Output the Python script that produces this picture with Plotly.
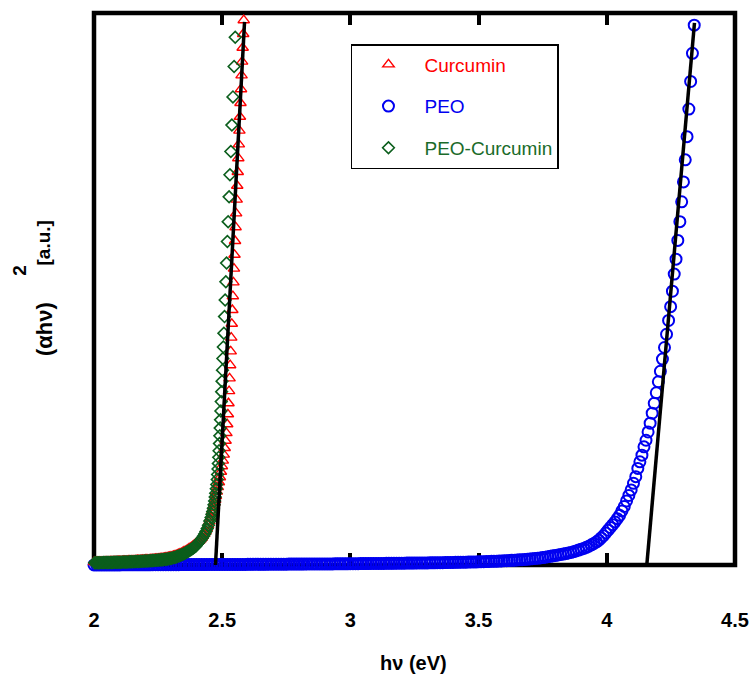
import plotly.graph_objects as go

# ---- Tauc data: photon energy (eV) vs (alpha*h*nu)^2 in arbitrary units ----
curcumin_x = [
    2.5840, 2.5819, 2.5798, 2.5776, 2.5755, 2.5734, 2.5713, 2.5692, 2.5671, 2.5649,
    2.5628, 2.5607, 2.5586, 2.5565, 2.5543, 2.5522, 2.5501, 2.5480, 2.5459, 2.5438,
    2.5416, 2.5395, 2.5374, 2.5353, 2.5332, 2.5310, 2.5288, 2.5268, 2.5245, 2.5222,
    2.5195, 2.5165, 2.5132, 2.5098, 2.5062, 2.5025, 2.4988, 2.4950, 2.4910, 2.4870,
    2.4830, 2.4790, 2.4755, 2.4727, 2.4700, 2.4675, 2.4650, 2.4625, 2.4600, 2.4550,
    2.4500, 2.4450, 2.4400, 2.4350, 2.4300, 2.4250, 2.4200, 2.4150, 2.4100, 2.4050,
    2.400, 2.395, 2.390, 2.385, 2.380, 2.375, 2.370, 2.365, 2.360, 2.355,
    2.350, 2.345, 2.340, 2.335, 2.330, 2.325, 2.320, 2.315, 2.310, 2.305,
    2.300, 2.295, 2.290, 2.285, 2.280, 2.275, 2.270, 2.265, 2.260, 2.255,
    2.250, 2.245, 2.240, 2.235, 2.230, 2.225, 2.220, 2.215, 2.210, 2.205,
    2.200, 2.195, 2.190, 2.185, 2.180, 2.175, 2.170, 2.165, 2.160, 2.155,
    2.150, 2.145, 2.140, 2.135, 2.130, 2.125, 2.120, 2.115, 2.110, 2.105,
    2.100, 2.095, 2.090, 2.085, 2.080, 2.075, 2.070, 2.065, 2.060, 2.055,
    2.050, 2.045, 2.040, 2.035, 2.030, 2.025, 2.020, 2.015, 2.010, 2.005,
    2.000,
]
curcumin_y = [
    98.7, 96.2, 93.7, 91.2, 88.7, 86.2, 83.7, 81.2, 78.7, 76.2,
    73.7, 71.2, 68.7, 66.2, 63.7, 61.2, 58.7, 56.2, 53.7, 51.2,
    48.7, 46.2, 43.7, 41.2, 38.7, 36.2, 33.8, 31.5, 29.3, 27.3,
    25.5, 23.9, 22.5, 21.2, 20.0, 18.9, 17.9, 16.9, 15.9, 15.0,
    14.1, 13.3, 12.5, 11.8, 11.3, 10.8, 10.3, 9.9, 9.5, 8.6,
    7.9, 7.2, 6.6, 6.1, 5.65, 5.3, 4.95, 4.65, 4.4, 4.2,
    4.0, 3.8, 3.6, 3.42, 3.25, 3.1, 2.95, 2.8, 2.65, 2.52,
    2.4, 2.27, 2.15, 2.05, 1.95, 1.86, 1.78, 1.7, 1.63, 1.56,
    1.5, 1.45, 1.4, 1.36, 1.32, 1.28, 1.25, 1.22, 1.19, 1.16,
    1.14, 1.11, 1.09, 1.07, 1.05, 1.03, 1.01, 0.99, 0.98, 0.96,
    0.95, 0.93, 0.92, 0.9, 0.89, 0.87, 0.86, 0.84, 0.83, 0.81,
    0.8, 0.79, 0.78, 0.77, 0.76, 0.75, 0.74, 0.73, 0.72, 0.71,
    0.7, 0.69, 0.68, 0.67, 0.66, 0.65, 0.64, 0.63, 0.62, 0.61,
    0.6, 0.59, 0.58, 0.575, 0.57, 0.56, 0.55, 0.545, 0.54, 0.53,
    0.52,
]

peo_x = [
    4.341, 4.334, 4.327, 4.320, 4.313, 4.306, 4.299, 4.292, 4.285, 4.277,
    4.270, 4.263, 4.256, 4.249, 4.241, 4.233, 4.225, 4.217, 4.209, 4.201,
    4.193, 4.185, 4.177, 4.169, 4.161, 4.153, 4.145, 4.137, 4.129, 4.121,
    4.113, 4.104, 4.095, 4.086, 4.077, 4.068, 4.059, 4.050, 4.041, 4.032,
    4.023, 4.014, 4.005, 3.996, 3.987, 3.978, 3.969, 3.960, 3.950, 3.940,
    3.930, 3.920, 3.910, 3.900, 3.890, 3.880, 3.870, 3.860, 3.850, 3.840,
    3.830, 3.820, 3.810, 3.800, 3.790, 3.780, 3.770, 3.760, 3.750,
    3.74, 3.73, 3.72, 3.71, 3.70, 3.69, 3.68, 3.67, 3.66, 3.65,
    3.64, 3.63, 3.62, 3.61, 3.60, 3.59, 3.58, 3.57, 3.56, 3.55,
    3.54, 3.53, 3.52, 3.51, 3.50, 3.49, 3.48, 3.47, 3.46, 3.45,
    3.44, 3.43, 3.42, 3.41, 3.40, 3.39, 3.38, 3.37, 3.36, 3.35,
    3.34, 3.33, 3.32, 3.31, 3.30, 3.29, 3.28, 3.27, 3.26, 3.25,
    3.24, 3.23, 3.22, 3.21, 3.20, 3.19, 3.18, 3.17, 3.16, 3.15,
    3.14, 3.13, 3.12, 3.11, 3.10, 3.09, 3.08, 3.07, 3.06, 3.05,
    3.04, 3.03, 3.02, 3.01, 3.00,
    2.99, 2.98, 2.97, 2.96, 2.95, 2.94, 2.93, 2.92, 2.91, 2.90,
    2.89, 2.88, 2.87, 2.86, 2.85, 2.84, 2.83, 2.82, 2.81, 2.80,
    2.79, 2.78, 2.77, 2.76, 2.75, 2.74, 2.73, 2.72, 2.71, 2.70,
    2.69, 2.68, 2.67, 2.66, 2.65, 2.64, 2.63, 2.62, 2.61, 2.60,
    2.59, 2.58, 2.57, 2.56, 2.55, 2.54, 2.53, 2.52, 2.51, 2.50,
    2.49, 2.48, 2.47, 2.46, 2.45, 2.44, 2.43, 2.42, 2.41, 2.40,
    2.39, 2.38, 2.37, 2.36, 2.35, 2.34, 2.33, 2.32, 2.31, 2.30,
    2.29, 2.28, 2.27, 2.26, 2.25, 2.24, 2.23, 2.22, 2.21, 2.20,
    2.19, 2.18, 2.17, 2.16, 2.15, 2.14, 2.13, 2.12, 2.11, 2.10,
    2.09, 2.08, 2.07, 2.06, 2.05, 2.04, 2.03, 2.02, 2.01, 2.00,
]
peo_y = [
    97.8, 92.7, 87.6, 82.6, 77.6, 73.4, 69.4, 65.8, 62.2, 58.8,
    55.4, 52.7, 49.6, 46.8, 44.3, 41.8, 39.4, 37.3, 35.1, 33.2,
    31.2, 29.3, 27.5, 25.7, 24.1, 22.6, 21.4, 19.9, 18.7, 17.5,
    16.0, 14.8, 13.6, 12.6, 11.6, 10.6, 9.8, 9.0, 8.4, 7.8,
    7.3, 6.8, 6.3, 5.8, 5.3, 4.9, 4.5, 4.2, 3.9, 3.65,
    3.4, 3.2, 3.0, 2.85, 2.7, 2.55, 2.4, 2.28, 2.17, 2.07,
    1.98, 1.9, 1.82, 1.74, 1.66, 1.58, 1.5, 1.42, 1.34,
    1.27, 1.22, 1.18, 1.13, 1.09, 1.05, 1.01, 0.97, 0.94, 0.91,
    0.88, 0.85, 0.82, 0.79, 0.77, 0.74, 0.72, 0.70, 0.68, 0.66,
    0.64, 0.62, 0.61, 0.59, 0.58, 0.56, 0.55, 0.54, 0.53, 0.52,
    0.51, 0.50, 0.49, 0.48, 0.47, 0.46, 0.45, 0.44, 0.43, 0.42,
    0.41, 0.40, 0.40, 0.39, 0.38, 0.37, 0.37, 0.36, 0.36, 0.35,
    0.35, 0.34, 0.34, 0.33, 0.33, 0.32, 0.32, 0.31, 0.31, 0.30,
    0.30, 0.29, 0.29, 0.28, 0.28, 0.27, 0.27, 0.26, 0.26, 0.25,
    0.25, 0.24, 0.24, 0.23, 0.23,
    0.22, 0.22, 0.22, 0.21, 0.21, 0.21, 0.20, 0.20, 0.20, 0.20,
    0.19, 0.19, 0.19, 0.18, 0.18, 0.18, 0.18, 0.17, 0.17, 0.17,
    0.16, 0.16, 0.16, 0.16, 0.15, 0.15, 0.15, 0.15, 0.14, 0.14,
    0.14, 0.14, 0.13, 0.13, 0.13, 0.13, 0.12, 0.12, 0.12, 0.12,
    0.11, 0.11, 0.11, 0.11, 0.11, 0.10, 0.10, 0.10, 0.10, 0.10,
    0.09, 0.09, 0.09, 0.09, 0.09, 0.08, 0.08, 0.08, 0.08, 0.08,
    0.07, 0.07, 0.07, 0.07, 0.07, 0.07, 0.06, 0.06, 0.06, 0.06,
    0.06, 0.05, 0.05, 0.05, 0.05, 0.05, 0.05, 0.04, 0.04, 0.04,
    0.04, 0.04, 0.04, 0.03, 0.03, 0.03, 0.03, 0.03, 0.03, 0.02,
    0.02, 0.02, 0.02, 0.02, 0.02, 0.01, 0.01, 0.01, 0.01, 0.01,
]

peo_curcumin_x = [
    2.5508, 2.5464, 2.5419, 2.5377, 2.5337, 2.5302, 2.5269, 2.5232, 2.5202, 2.5170,
    2.5142, 2.5115, 2.5090, 2.5065, 2.5044, 2.5027, 2.5010, 2.4993, 2.4978, 2.4963,
    2.4949, 2.4935, 2.4921, 2.4907, 2.4893, 2.4878, 2.4864, 2.4850, 2.4836, 2.4821,
    2.4806, 2.4788, 2.4768, 2.4745, 2.4725, 2.4703, 2.4680, 2.4655, 2.4628, 2.4600,
    2.4565, 2.4515, 2.4465, 2.4415, 2.4365, 2.4315, 2.4265, 2.4215, 2.4165, 2.4115,
    2.4065, 2.4015,
    2.3975, 2.3925, 2.3875, 2.3825, 2.3775, 2.3725, 2.3675, 2.3625, 2.3575, 2.3525,
    2.3475, 2.3425, 2.3375, 2.3325, 2.3275, 2.3225, 2.3175, 2.3125, 2.3075, 2.3025,
    2.2975, 2.2925, 2.2875, 2.2825, 2.2775, 2.2725, 2.2675, 2.2625, 2.2575, 2.2525,
    2.2475, 2.2425, 2.2375, 2.2325, 2.2275, 2.2225, 2.2175, 2.2125, 2.2075, 2.2025,
    2.1975, 2.1925, 2.1875, 2.1825, 2.1775, 2.1725, 2.1675, 2.1625, 2.1575, 2.1525,
    2.1475, 2.1425, 2.1375, 2.1325, 2.1275, 2.1225, 2.1175, 2.1125, 2.1075, 2.1025,
    2.0975, 2.0925, 2.0875, 2.0825, 2.0775, 2.0725, 2.0675, 2.0625, 2.0575, 2.0525,
    2.0475, 2.0425, 2.0375, 2.0325, 2.0275, 2.0225, 2.0175, 2.0125, 2.0075, 2.0025,
]
peo_curcumin_y = [
    95.6, 90.3, 84.8, 79.7, 74.9, 70.7, 66.7, 62.2, 58.6, 54.7,
    51.3, 48.0, 45.0, 42.0, 39.5, 37.4, 35.3, 33.3, 31.4, 29.6,
    27.9, 26.3, 24.8, 23.4, 22.0, 20.7, 19.5, 18.4, 17.4, 16.4,
    15.5, 14.6, 13.8, 13.0, 12.3, 11.6, 10.9, 10.3, 9.7, 9.2,
    8.6, 7.95, 7.2, 6.6, 6.05, 5.6, 5.2, 4.85, 4.55, 4.25,
    4.0, 3.75,
    3.45, 3.27, 3.09, 2.92, 2.77, 2.62, 2.48, 2.34, 2.21, 2.09,
    1.97, 1.86, 1.76, 1.66, 1.57, 1.49, 1.42, 1.35, 1.29, 1.23,
    1.18, 1.14, 1.10, 1.06, 1.03, 1.00, 0.97, 0.94, 0.92, 0.90,
    0.88, 0.86, 0.84, 0.82, 0.80, 0.78, 0.77, 0.75, 0.74, 0.72,
    0.71, 0.70, 0.68, 0.67, 0.66, 0.65, 0.63, 0.62, 0.61, 0.60,
    0.59, 0.58, 0.57, 0.56, 0.55, 0.54, 0.54, 0.53, 0.52, 0.51,
    0.51, 0.50, 0.49, 0.49, 0.48, 0.47, 0.47, 0.46, 0.46, 0.45,
    0.45, 0.44, 0.44, 0.43, 0.43, 0.42, 0.42, 0.41, 0.41, 0.40,
]

# Linear extrapolations of the absorption edges: intercept (band gap, eV),
# slope (a.u. per eV) and the vertical span of each drawn fit line.
fit_gap = [2.4738, 4.156]
fit_slope = [868.0, 528.0]
fit_span = [(-1.2, 98.4), (-0.3, 98.2)]

tick_vals = [2, 2.5, 3, 3.5, 4, 4.5]
tick_text = ["2", "2.5", "3", "3.5", "4", "4.5"]

RED = "#ff0000"
BLUE = "#0000f0"
GREEN = "#0b5e1c"
GREEN_TEXT = "#1a6b2a"
FONT = "Liberation Sans, Arial"

fig = go.Figure()

# PEO drawn first, the curcumin films on top of it
fig.add_trace(go.Scatter(
    x=peo_x, y=peo_y, mode="markers", name=f'<span style="color:{BLUE}">PEO</span>',
    legendgroup="b", legendrank=2, cliponaxis=False,
    marker=dict(symbol="circle-open", size=11, color=BLUE, line=dict(width=2, color=BLUE)),
))
fig.add_trace(go.Scatter(
    x=curcumin_x, y=curcumin_y, mode="markers", name=f'<span style="color:{RED}">Curcumin</span>',
    legendgroup="a", legendrank=1, cliponaxis=False,
    marker=dict(symbol="triangle-up-open", size=10, color=RED, line=dict(width=1.4, color=RED)),
))
fig.add_trace(go.Scatter(
    x=peo_curcumin_x, y=peo_curcumin_y, mode="markers",
    name=f'<span style="color:{GREEN_TEXT}">PEO-Curcumin</span>',
    legendgroup="c", legendrank=3, cliponaxis=False,
    marker=dict(symbol="diamond-open", size=9, color=GREEN, line=dict(width=1.6, color=GREEN)),
))

# fitted straight lines, computed from the stored intercept and slope
for eg, k, (y0, y1) in zip(fit_gap, fit_slope, fit_span):
    fig.add_trace(go.Scatter(
        x=[eg + y0 / k, eg + y1 / k], y=[y0, y1], mode="lines", showlegend=False,
        cliponaxis=False, line=dict(color="black", width=3.5),
    ))

fig.update_xaxes(
    range=[2, 4.5], tickvals=tick_vals, ticktext=tick_text,
    ticks="inside", ticklen=12, tickwidth=4, tickcolor="black", mirror="ticks",
    showline=False, showgrid=False, zeroline=False, layer="below traces",
    tickfont=dict(family=FONT, size=20, color="black", weight="bold"),
    ticklabelstandoff=41, ticklabeloverflow="allow", automargin=False,
)
fig.update_yaxes(
    range=[0, 100], showticklabels=False, ticks="", showline=False,
    showgrid=False, zeroline=False, automargin=False,
)

# heavy black frame around the plotting area
fig.add_shape(type="rect", xref="paper", yref="paper", x0=0, x1=1, y0=0, y1=1,
              line=dict(color="black", width=4.5), layer="below")

fig.add_annotation(text="hν (eV)", xref="paper", yref="paper", x=0.498, y=-0.1775,
                   xanchor="center", yanchor="middle", showarrow=False,
                   font=dict(family=FONT, size=20, color="black", weight="bold"))
fig.add_annotation(text="(αhν)", xref="paper", yref="paper", x=-0.078, y=0.4275,
                   textangle=-90, xanchor="center", yanchor="middle", showarrow=False,
                   font=dict(family=FONT, size=22, color="black", weight="bold"))
fig.add_annotation(text="2", xref="paper", yref="paper", x=-0.1154, y=0.533,
                   textangle=-90, xanchor="center", yanchor="middle", showarrow=False,
                   font=dict(family=FONT, size=19, color="black", weight="bold"))
fig.add_annotation(text="[a.u.]", xref="paper", yref="paper", x=-0.0795, y=0.5825,
                   textangle=-90, xanchor="center", yanchor="middle", showarrow=False,
                   font=dict(family=FONT, size=19, color="black", weight="bold"))

fig.update_layout(
    width=751, height=679,
    margin=dict(l=94, r=16, t=13, b=114, autoexpand=False),
    paper_bgcolor="white", plot_bgcolor="white",
    showlegend=True,
    legend=dict(
        x=0.4009, y=0.9438, xanchor="left", yanchor="top",
        bgcolor="white", bordercolor="black", borderwidth=1.5,
        font=dict(family=FONT, size=19, color="black"),
        tracegroupgap=14, itemwidth=62, itemsizing="trace",
    ),
)

fig.write_html("out.html", config={"displayModeBar": False})
